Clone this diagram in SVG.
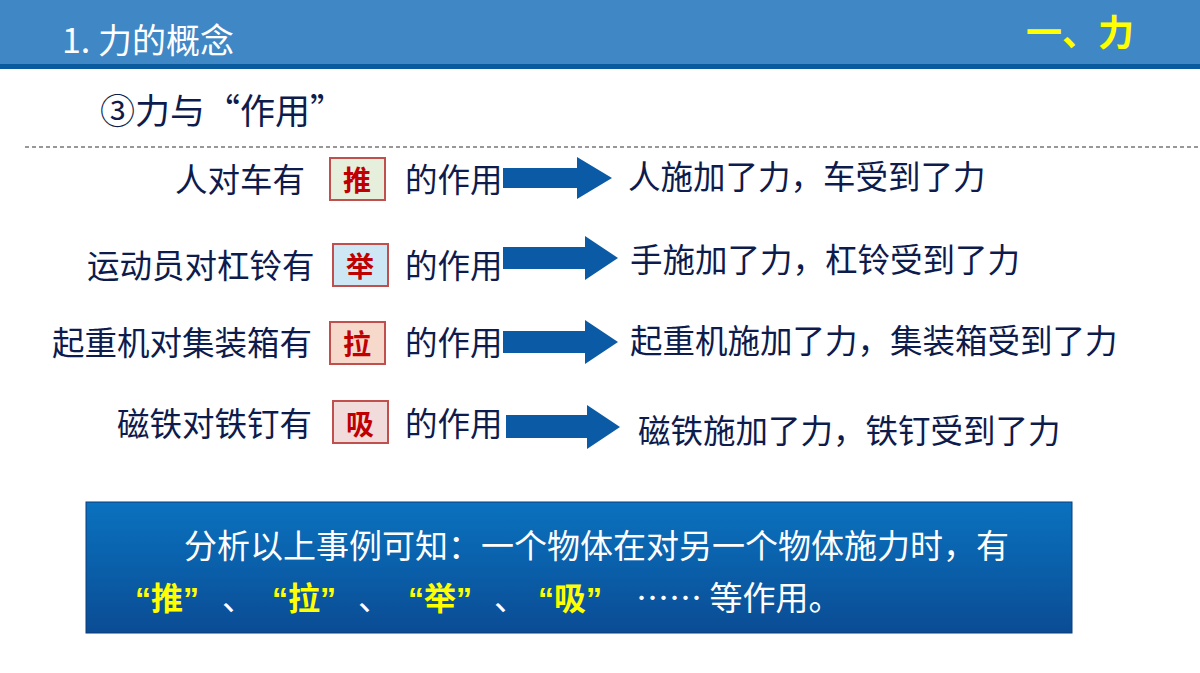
<svg xmlns="http://www.w3.org/2000/svg" width="1200" height="673" viewBox="0 0 1200 673">
<defs>
<linearGradient id="bg" x1="0" y1="0" x2="0" y2="1"><stop offset="0" stop-color="#0a72bf"/><stop offset="1" stop-color="#0a4c94"/></linearGradient>
<style>
.t{font-family:"Noto Sans CJK SC","Noto Sans",sans-serif;font-size:32.5px;fill:#0d1b4d}
.k{font-family:"Noto Sans CJK SC",sans-serif;font-size:28px;font-weight:bold;fill:#c00000;text-anchor:middle}
.b{stroke:#c0504d;stroke-width:2}
.ar{fill:#0b5aa6}
.w{font-family:"Noto Sans CJK SC",sans-serif;font-size:33px;fill:#fff}
.y{font-family:"Liberation Sans","Noto Sans CJK SC",sans-serif;font-size:32px;font-weight:bold;fill:#ffff00}
</style>
</defs>
<rect width="1200" height="673" fill="#fff"/>
<rect width="1200" height="64" fill="#3f88c5"/>
<rect y="64" width="1200" height="5" fill="#0a5aa0"/>
<text x="62" y="53" font-family="Noto Sans CJK SC,sans-serif" font-size="34" fill="#fff">1. 力的概念</text>
<text x="1026" y="46" font-family="Noto Sans CJK SC,sans-serif" font-size="36" font-weight="bold" fill="#ffff00">一、力</text>
<text x="100" y="124" class="t" style="font-size:35px">③力与“作用”</text>
<line x1="25" y1="147" x2="1200" y2="147" stroke="#777" stroke-width="1.5" stroke-dasharray="4,3"/>
<g id="row1"><text x="175" y="192" class="t">人对车有</text><rect x="330" y="158" width="55" height="42" fill="#e6efdc" class="b"/><text x="357" y="191" class="k">推</text><text x="405" y="192" class="t">的作用</text><text x="628" y="189" class="t">人施加了力，车受到了力</text></g>
<g id="row2"><text x="87" y="278" class="t">运动员对杠铃有</text><rect x="333" y="244" width="55" height="42" fill="#cde8f4" class="b"/><text x="360" y="277" class="k">举</text><text x="405" y="278" class="t">的作用</text><text x="630" y="272" class="t">手施加了力，杠铃受到了力</text></g>
<g id="row3"><text x="52" y="355" class="t">起重机对集装箱有</text><rect x="330" y="322" width="55" height="42" fill="#f7d9cc" class="b"/><text x="357" y="355" class="k">拉</text><text x="405" y="355" class="t">的作用</text><text x="630" y="353" class="t">起重机施加了力，集装箱受到了力</text></g>
<g id="row4"><text x="117" y="436" class="t">磁铁对铁钉有</text><rect x="333" y="401" width="55" height="42" fill="#f2dcdb" class="b"/><text x="360" y="435" class="k">吸</text><text x="405" y="436" class="t">的作用</text><text x="638" y="443" class="t">磁铁施加了力，铁钉受到了力</text></g>
<g id="connectors">
<polygon class="ar" points="503,168 577,168 577,157 612,178 577,199 577,188 503,188"/>
<polygon class="ar" points="503,247 585,247 585,236 618,258 585,280 585,269 503,269"/>
<polygon class="ar" points="503,331 585,331 585,320 618,342 585,364 585,353 503,353"/>
<polygon class="ar" points="506,415 587,415 587,405 620,427 587,449 587,438 506,438"/>
</g>
<g id="summary">
<rect x="86" y="502" width="986" height="131" fill="url(#bg)" stroke="#0a3d7a"/>
<text x="184" y="558" class="w">分析以上事例可知：一个物体在对另一个物体施力时，有</text>
<text x="135" y="610" class="y">“推”</text><text x="222" y="610" class="w">、</text>
<text x="272" y="610" class="y">“拉”</text><text x="358" y="610" class="w">、</text>
<text x="408" y="610" class="y">“举”</text><text x="494" y="610" class="w">、</text>
<text x="538" y="610" class="y">“吸”</text>
<text x="636" y="610" class="w">…… 等作用。</text>
</g>
</svg>
